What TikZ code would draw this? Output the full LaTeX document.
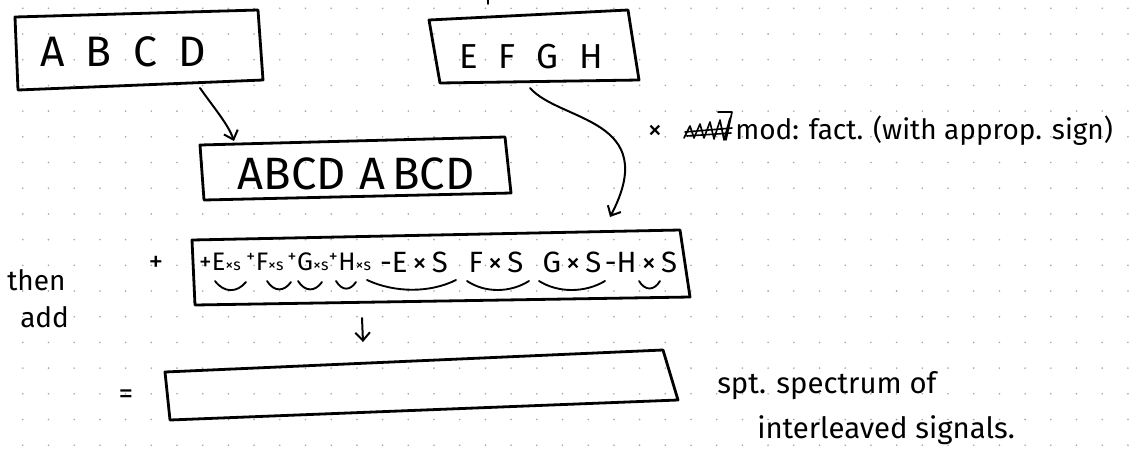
\documentclass[tikz,border=0pt]{standalone}
\usepackage{fontspec}
\setmainfont{Fira Sans}
\usetikzlibrary{arrows.meta}
\begin{document}
\begin{tikzpicture}[x=0.75pt,y=-0.75pt,
  ink/.style={line width=2.1pt, line join=round, line cap=round, draw=black},
  conn/.style={line width=1.5pt, line cap=round,
    -{Straight Barb[length=6pt,width=11pt,line width=1.5pt]}},
  arcline/.style={line width=1.4pt, line cap=round},
  bigtxt/.style={inner sep=0pt, font=\fontsize{32}{34}\selectfont},
  midtxt/.style={inner sep=0pt, font=\fontsize{26}{28}\selectfont},
  termtxt/.style={inner sep=0pt, font=\fontsize{22}{24}\selectfont},
  smallterm/.style={inner sep=0pt, font=\fontsize{19}{21}\selectfont},
  note/.style={inner sep=0pt, anchor=base west, font=\fontsize{21}{23}\selectfont},
  dotc/.style={fill=black!35}]
% canvas
\useasboundingbox (0,0) rectangle (1136,465);
\fill[white] (0,0) rectangle (1136,465);
% dot grid of the paper
\foreach \i in {0,...,43}{
  \foreach \j in {0,...,17}{
    \fill[dotc] ({22.8+25.7*\i},{8.3+25.7*\j}) circle (0.9);
  }
}
% tiny mark at the top
\draw[ink,line width=1.2pt] (488,0) -- (488,4);

% ---- box ABCD
\draw[ink] (15,17) -- (258,10) -- (263,80) -- (18,90) -- cycle;
\node[bigtxt] (abcd) at (123,52) {A\hspace{0.5em}B\hspace{0.5em}C\hspace{0.5em}D};
% ---- box EFGH
\draw[ink] (429,20) -- (628,10) -- (639,80) -- (440,83) -- cycle;
\node[midtxt] (efgh) at (531,57) {E\hspace{0.6em}F\hspace{0.6em}G\hspace{0.6em}H};
% ---- box ABCD ABCD
\draw[ink] (200,145) -- (505,137) -- (511,193) -- (204,200) -- cycle;
\node[bigtxt,font=\fontsize{34}{36}\selectfont] (abcd2) at (356,174) {ABCD\hspace{0.3em}A\hspace{0.15em}BCD};
% ---- long box with the products
\draw[ink] (192,240) -- (680,230) -- (690,297) -- (195,305) -- cycle;
\node[smallterm] (t1) at (220,262) {+E{\fontsize{12}{12}\selectfont ×s}};
\node[smallterm] (t2) at (265,262) {\textsuperscript{+}F{\fontsize{12}{12}\selectfont ×s}};
\node[smallterm] (t3) at (308,262) {\textsuperscript{+}G{\fontsize{12}{12}\selectfont ×s}};
\node[smallterm] (t4) at (350,262) {\textsuperscript{+}H{\fontsize{12}{12}\selectfont ×s}};
\node[termtxt] (t5) at (414,262) {-E\,×\,S};
\node[termtxt] (t6) at (496,262) {F\,×\,S};
\node[termtxt] (t7) at (572,262) {G\,×\,S};
\node[termtxt] (t8) at (641,262) {-H\,×\,S};
% under-arcs
\draw[arcline] (215,281) .. controls (224,293) and (237,293) .. (246,282);
\draw[arcline] (267,281) .. controls (274,292) and (284,292) .. (291,282);
\draw[arcline] (298,281) .. controls (305,292) and (315,292) .. (322,282);
\draw[arcline] (336,281) .. controls (342,291) and (350,291) .. (356,282);
\draw[arcline] (367,280) .. controls (395,293) and (430,293) .. (456,280);
\draw[arcline] (467,281) .. controls (485,293) and (510,293) .. (529,281);
\draw[arcline] (539,281) .. controls (558,293) and (585,293) .. (605,281);
\draw[arcline] (639,281) .. controls (645,291) and (654,291) .. (660,281);
% ---- result box
\draw[ink] (165,372) -- (663,350) -- (678,400) -- (170,420) -- cycle;
\node[inner sep=0pt] (res) at (420,386) {};

% ---- operators and side notes
\node[termtxt] (plus) at (156,264) {+};
\node[termtxt] (eq) at (126,397) {=};
\node[note] (then) at (7,290) {then};
\node[note] (add) at (20,327) {add};
\node[termtxt] (times) at (655,132) {×};
% crossed-out word
\draw[line width=1.2pt, line cap=round, line join=round]
  (684,138) -- (690,126) -- (694,138) -- (700,124) -- (704,138) -- (710,122)
  -- (714,139) -- (720,120) -- (724,140) -- (730,118)
  (685,132) -- (732,128) (687,136) -- (731,133) (718,112) -- (732,112) -- (726,140);
\node[note] (mod) at (735,139) {mod: fact. (with approp. sign)};
\node[note,font=\fontsize{22}{24}\selectfont] (spec1) at (717,393) {spt. spectrum of};
\node[note,font=\fontsize{22}{24}\selectfont] (spec2) at (757,438) {interleaved signals.};

% ---- connectors
\coordinate (abcdOut) at (200,88);
\coordinate (abcd2In) at (234,141);
\coordinate (efghOut) at (530,88);
\coordinate (longIn) at (610,217);
\coordinate (longOut) at (362,318);
\coordinate (resIn) at (363,342);
\draw[conn] (abcdOut) .. controls (214,108) and (228,124) .. (abcd2In);
\draw[conn] (efghOut) .. controls (560,122) and (662,118) .. (longIn);
\draw[conn] (longOut) -- (resIn);
\end{tikzpicture}
\end{document}
